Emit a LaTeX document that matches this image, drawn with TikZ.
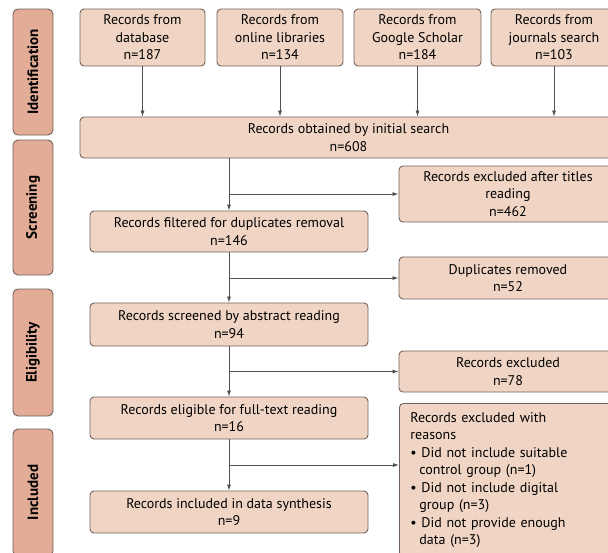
\documentclass[tikz,border=0pt]{standalone}
\usepackage{fontspec}
\setmainfont{PT Sans}
\usetikzlibrary{arrows.meta,positioning,calc}

\definecolor{boxfill}{RGB}{240,213,197}
\definecolor{stagefill}{RGB}{227,172,150}
\definecolor{edgegray}{RGB}{112,98,92}
\definecolor{linegray}{RGB}{80,80,80}

\begin{document}
\begin{tikzpicture}[x=1pt, y=-1pt,
    box/.style={draw=edgegray, fill=boxfill, rounded corners=4pt, line width=0.9pt,
                align=center, inner sep=0pt, font=\fontsize{14}{17.5}\selectfont},
    stage/.style={draw=edgegray, fill=stagefill, rounded corners=5pt, line width=0.9pt,
                  minimum height=40, inner sep=0pt, rotate=90,
                  font=\bfseries\fontsize{15}{17}\selectfont},
    arr/.style={-{Latex[length=6pt,width=4pt]}, draw=linegray, line width=0.8pt},
]
\useasboundingbox (0,0) rectangle (608,552);
\clip (0,0) rectangle (608,552);

% stages on the left
\node[stage, minimum width=126] (idt) at (33,72) {Identification};
\node[stage, minimum width=135] (scr) at (33,207.5) {Screening};
\node[stage, minimum width=127] (elg) at (33,352.5) {Eligibility};
\node[stage, minimum width=127] (inc) at (33,492.5) {Included};

% sources
\node[box, minimum width=125, minimum height=57] (db) at (142.5,37.5) {Records from\\database\\n=187};
\node[box, minimum width=126, minimum height=57] (lib) at (280,37.5) {Records from\\online libraries\\n=134};
\node[box, minimum width=127, minimum height=57] (gs) at (417.5,37.5) {Records from\\Google Scholar\\n=184};
\node[box, minimum width=126, minimum height=57] (jrn) at (554,37.5) {Records from\\journals search\\n=103};

\node[box, minimum width=537, minimum height=41] (init) at (348.5,137.5) {Records obtained by initial search\\n=608};

% main column
\node[box, minimum width=278, minimum height=41] (filt) at (229,231.5) {Records filtered for duplicates removal\\n=146};
\node[box, minimum width=278, minimum height=43] (scrn) at (229,324.5) {Records screened by abstract reading\\n=94};
\node[box, minimum width=278, minimum height=42] (elig) at (229,418) {Records eligible for full-text reading\\n=16};
\node[box, minimum width=278, minimum height=42] (incl) at (229,512) {Records included in data synthesis\\n=9};

% exclusions
\node[box, minimum width=218, minimum height=56] (titl) at (508,194) {Records excluded after titles\\reading\\n=462};
\node[box, minimum width=218, minimum height=42] (dupl) at (508,278) {Duplicates removed\\n=52};
\node[box, minimum width=218, minimum height=41] (excl) at (508,371.5) {Records excluded\\n=78};
\node[box, anchor=north west, text width=196, inner xsep=11, minimum height=153, align=left] (reas) at (399,403)
  {Records excluded with\\
   reasons\\
   \textbullet\ Did not include suitable\\
   \hspace*{9pt}control group (n=1)\\
   \textbullet\ Did not include digital\\
   \hspace*{9pt}group (n=3)\\
   \textbullet\ Did not provide enough\\
   \hspace*{9pt}data (n=3)};

% arrows
\foreach \src in {db,lib,gs,jrn}
  \draw[arr] (\src.south) -- (\src.south |- init.north);
\draw[arr] (init.south -| filt.north) -- (filt.north);
\draw[arr] (filt.south) -- (scrn.north);
\draw[arr] (scrn.south) -- (elig.north);
\draw[arr] (elig.south) -- (incl.north);

\draw[arr] (titl.west -| filt.north) -- (titl.west);
\draw[arr] (dupl.west -| filt.north) -- (dupl.west);
\draw[arr] (excl.west -| scrn.north) -- (excl.west);
\coordinate (rb) at ($(elig.south)!.5!(incl.north)$);
\draw[arr] (rb) -- (rb -| reas.west);
\end{tikzpicture}
\end{document}
